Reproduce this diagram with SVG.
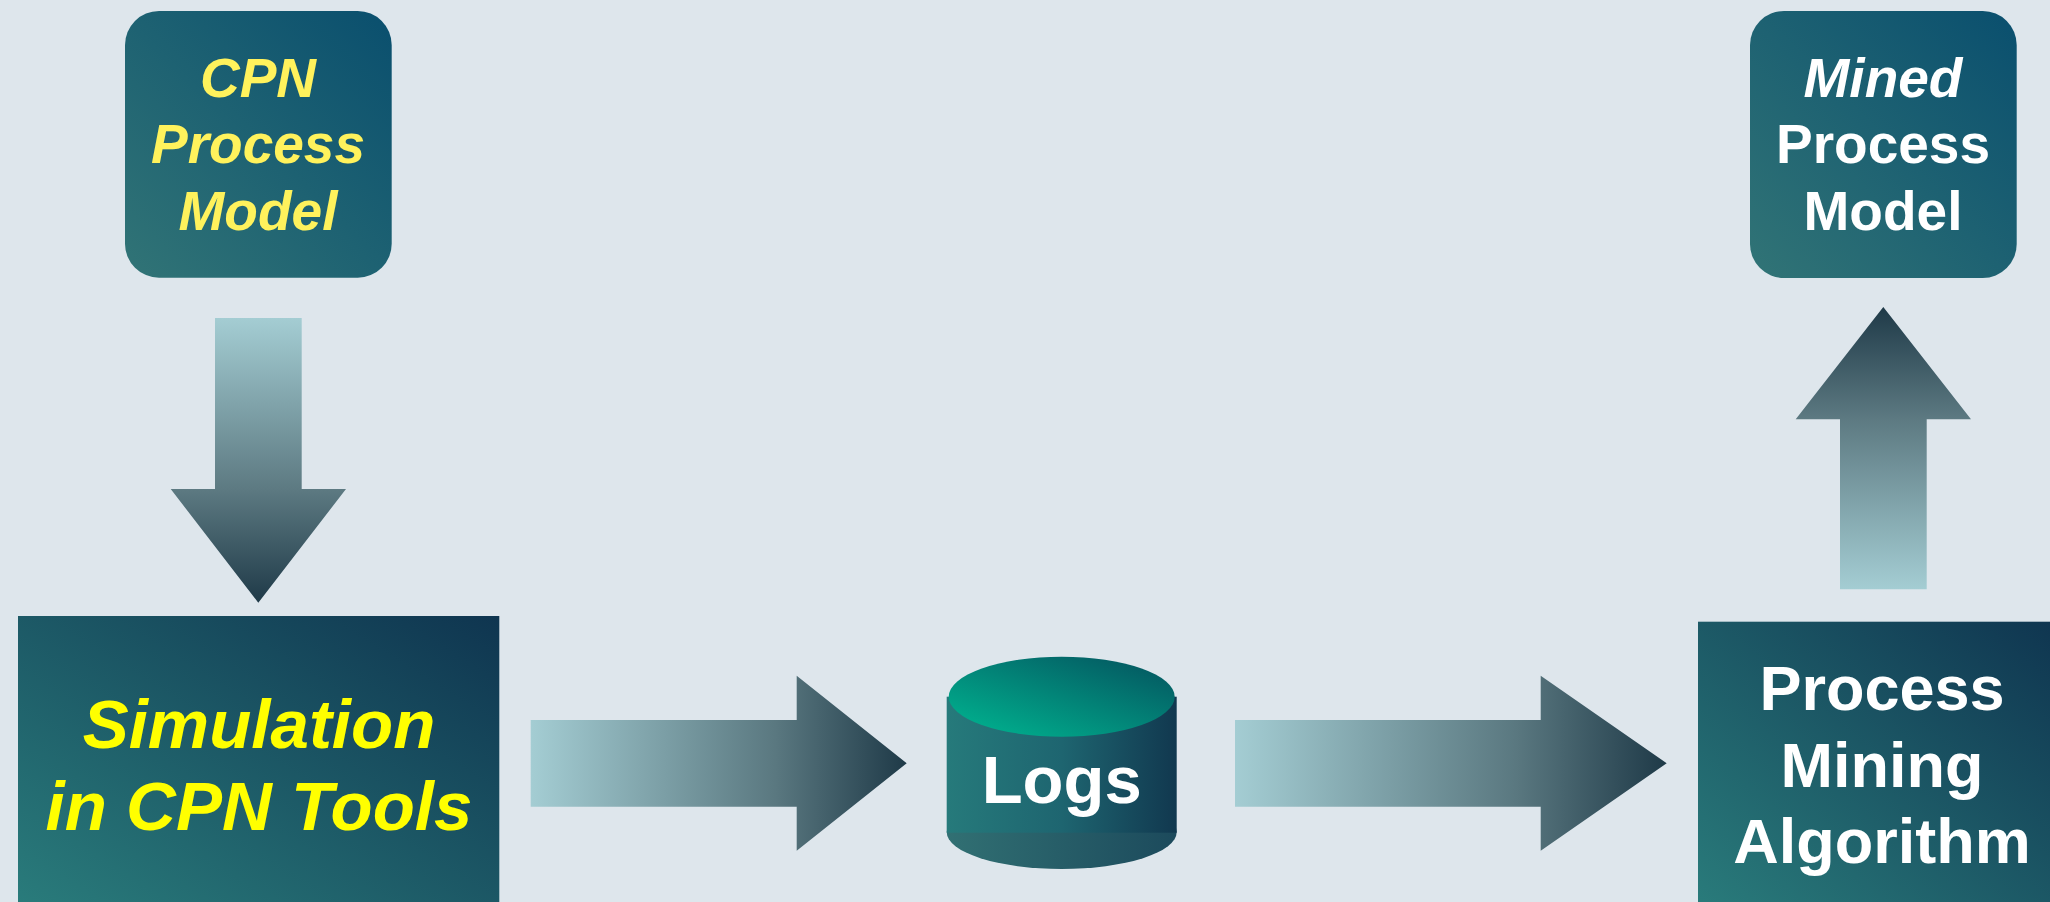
<svg xmlns="http://www.w3.org/2000/svg" width="2050" height="902" viewBox="0 0 2050 902">
<defs>
<linearGradient id="gBox" x1="0" y1="1" x2="1" y2="0">
<stop offset="0" stop-color="#2a7d7c"/>
<stop offset="1" stop-color="#0f3550"/>
</linearGradient>
<linearGradient id="gRound" x1="0" y1="1" x2="1" y2="0">
<stop offset="0" stop-color="#317476"/>
<stop offset="1" stop-color="#0a4f6e"/>
</linearGradient>
<linearGradient id="gDown" x1="0" y1="0" x2="0" y2="1">
<stop offset="0" stop-color="#a4cdd3"/>
<stop offset="0.6" stop-color="#5d7a82"/>
<stop offset="1" stop-color="#1f3a48"/>
</linearGradient>
<linearGradient id="gUp" x1="0" y1="1" x2="0" y2="0">
<stop offset="0" stop-color="#a4cdd3"/>
<stop offset="0.6" stop-color="#5d7a82"/>
<stop offset="1" stop-color="#1f3a48"/>
</linearGradient>
<linearGradient id="gRight" x1="0" y1="0" x2="1" y2="0">
<stop offset="0" stop-color="#a4cdd3"/>
<stop offset="0.65" stop-color="#5a7880"/>
<stop offset="1" stop-color="#1f3a48"/>
</linearGradient>
<linearGradient id="gCyl" x1="0" y1="0" x2="1" y2="0">
<stop offset="0" stop-color="#267a7b"/>
<stop offset="0.5" stop-color="#1e6570"/>
<stop offset="1" stop-color="#11384f"/>
</linearGradient>
<linearGradient id="gCylBot" x1="0" y1="0" x2="1" y2="0">
<stop offset="0" stop-color="#317073"/>
<stop offset="1" stop-color="#1c4a5c"/>
</linearGradient>
<linearGradient id="gTop" x1="0" y1="1" x2="1" y2="0">
<stop offset="0" stop-color="#00b892"/>
<stop offset="1" stop-color="#04505d"/>
</linearGradient>
</defs>
<style>
.t{font-family:"Liberation Sans",Arial,sans-serif;font-weight:bold;text-anchor:middle}
.i{font-style:italic}
.y1{fill:#fff25c}
.y2{fill:#ffff00}
.w{fill:#ffffff}
</style>
<rect x="0" y="0" width="2050" height="902" fill="#dee6ec"/>

<g id="connectors">
<polygon points="215,318 301.7,318 301.7,489 346,489 258.3,602.7 170.7,489 215,489" fill="url(#gDown)"/>
<polygon points="530.7,720 796.7,720 796.7,675.7 906.7,763.3 796.7,850.7 796.7,806.7 530.7,806.7" fill="url(#gRight)"/>
<polygon points="1235,720 1540.7,720 1540.7,675.7 1666.7,763.3 1540.7,850.7 1540.7,806.7 1235,806.7" fill="url(#gRight)"/>
<polygon points="1883.3,307 1971,419.3 1926.7,419.3 1926.7,589.3 1840,589.3 1840,419.3 1795.7,419.3" fill="url(#gUp)"/>
</g>

<g id="cpn-model">
<rect x="125" y="11" width="266.7" height="266.7" rx="34" fill="url(#gRound)"/>
<text class="t i y1" x="258" y="97" font-size="55">CPN</text>
<text class="t i y1" x="258" y="163" font-size="55">Process</text>
<text class="t i y1" x="258" y="230" font-size="55">Model</text>
</g>

<g id="mined-model">
<rect x="1750" y="11" width="266.7" height="267" rx="34" fill="url(#gRound)"/>
<text class="t i w" x="1883" y="97" font-size="55">Mined</text>
<text class="t w" x="1883" y="163" font-size="55">Process</text>
<text class="t w" x="1883" y="230" font-size="55">Model</text>
</g>

<g id="simulation">
<rect x="18" y="616" width="481.3" height="300" fill="url(#gBox)"/>
<text class="t i y2" x="259" y="748" font-size="69">Simulation</text>
<text class="t i y2" x="259" y="830" font-size="69">in CPN Tools</text>
</g>

<g id="logs">
<ellipse cx="1061.7" cy="832" rx="115" ry="37" fill="url(#gCylBot)"/>
<rect x="946.7" y="696.7" width="230" height="136" fill="url(#gCyl)"/>
<ellipse cx="1061.7" cy="696.7" rx="113" ry="40" fill="url(#gTop)"/>
<text class="t w" x="1061.7" y="803" font-size="67">Logs</text>
</g>

<g id="process-mining">
<rect x="1698" y="621.7" width="360" height="300" fill="url(#gBox)"/>
<text class="t w" x="1882" y="710" font-size="63">Process</text>
<text class="t w" x="1882" y="787" font-size="63">Mining</text>
<text class="t w" x="1882" y="863" font-size="63">Algorithm</text>
</g>
</svg>
